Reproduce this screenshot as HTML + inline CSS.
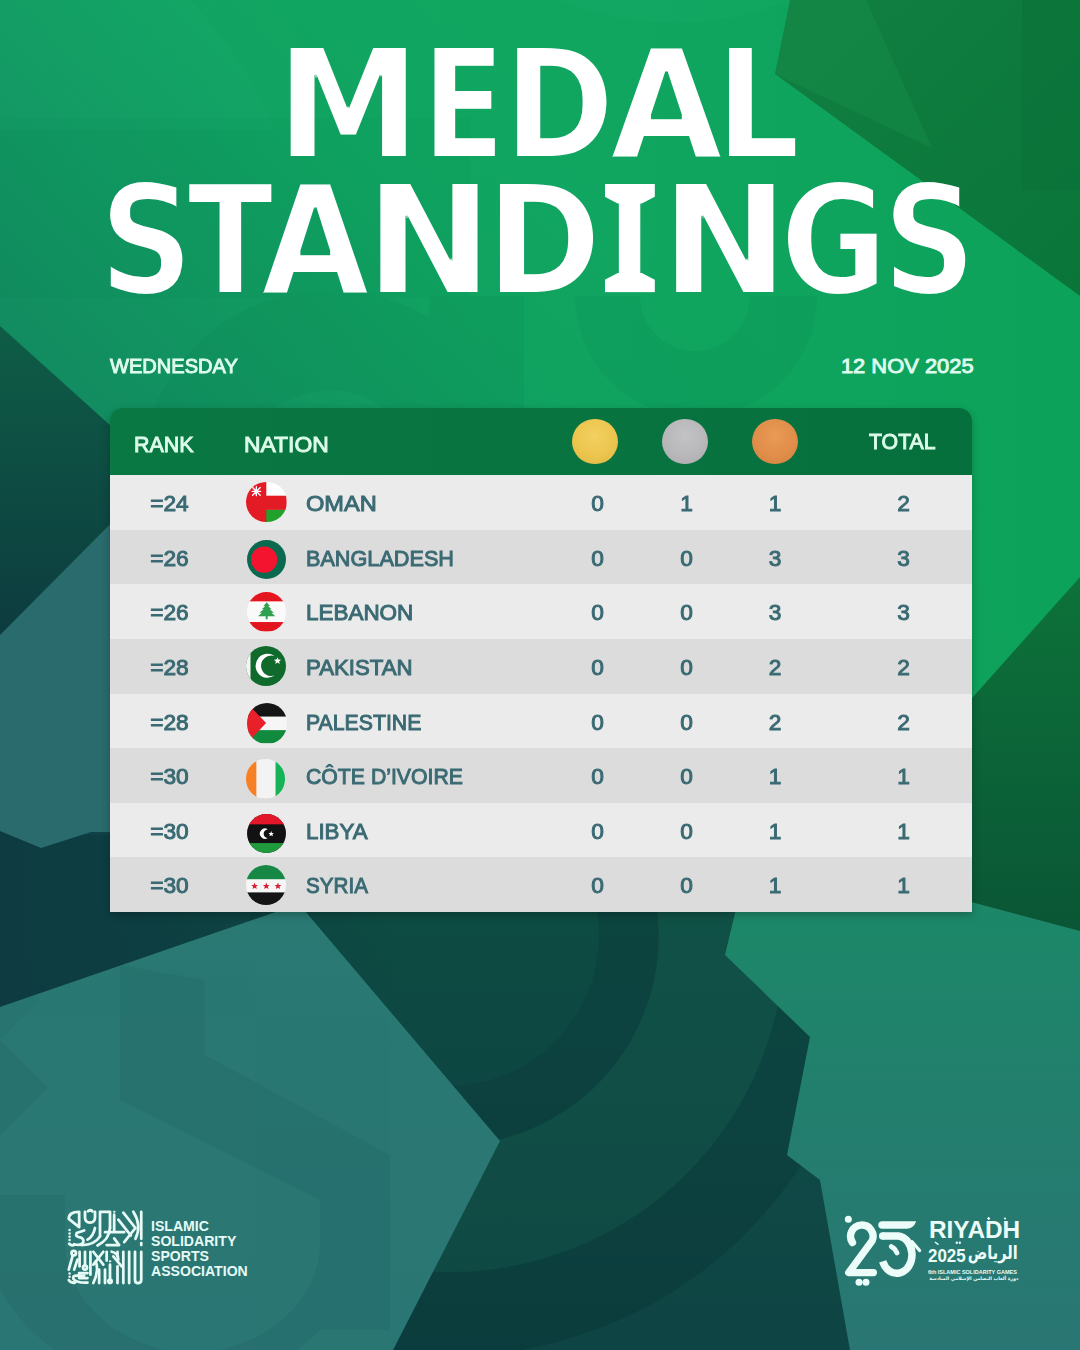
<!DOCTYPE html>
<html lang="en">
<head>
<meta charset="utf-8">
<title>Medal Standings</title>
<style>
*{margin:0;padding:0;box-sizing:border-box}
html,body{width:1080px;height:1350px;overflow:hidden;background:#0f5a4a}
body{position:relative;font-family:"Liberation Sans","DejaVu Sans",sans-serif;color:#fff}
#bg{position:absolute;left:0;top:0;width:1080px;height:1350px;display:block}
.title{position:absolute;font-family:"DejaVu Sans","Liberation Sans",sans-serif;font-stretch:normal;font-weight:700;font-size:153.4px;color:#fff;line-height:1;white-space:nowrap;filter:url(#thin)}
.title .tw{display:inline-block;transform-origin:0 0}
.title .tw span{display:inline-block}
.serif{position:absolute;left:604.800px;width:50px;height:19.500px;background:#fff;clip-path:polygon(0 0,100% 0,100% 66%,74% 100%,26% 100%,0 66%)}
.sub{position:absolute;top:354px;font-size:20.9px;font-weight:400;-webkit-text-stroke:.95px #defbee;color:#defbee;line-height:24px;white-space:nowrap}
#day{left:109.500px;transform-origin:0 50%;transform:scaleX(.96)}
#date{right:106.500px;transform-origin:100% 50%;transform:scaleX(1.048)}
#card{position:absolute;left:110px;top:408px;width:862px;height:504px;border-radius:13px 13px 0 0;overflow:hidden;box-shadow:0 3px 8px rgba(0,0,0,.24)}
#head{position:absolute;left:0;top:0;width:862px;height:67.300px;background:linear-gradient(90deg,#0a7843 0%,#06703d 100%)}
.h{position:absolute;font-size:21.8px;font-weight:400;-webkit-text-stroke:.95px #dcfbea;color:#dcfbea;line-height:24px;white-space:nowrap;transform-origin:0 50%}
.medal{position:absolute;top:10.500px;width:45.600px;height:45.600px;border-radius:50%}
.row{position:absolute;left:0;width:862px;height:54.600px;background:#ebebeb;color:#3a6a73;-webkit-text-stroke:1px #3a6a73;font-size:22.7px;font-weight:400;line-height:56.4px;white-space:nowrap}
.row.alt{background:#dcdcdc}
.row span{position:absolute;top:0}
.rk{left:0;width:119px;text-align:center}
.nm{left:195.800px;transform-origin:0 50%}
.n{width:60px;text-align:center}
.g{left:457.500px}.s{left:546.500px}.b{left:635px}.t{left:763.500px}
.flag{position:absolute;left:136.500px;top:7px;width:40.500px;height:40.500px;border-radius:50%;overflow:hidden}
.flag svg{display:block;width:100%;height:100%}
#issat{position:absolute;left:151.200px;top:1218.900px;font-size:14.300px;line-height:14.900px;font-weight:700;color:#e6fbf6;letter-spacing:0;white-space:nowrap;transform-origin:0 0;transform:scaleX(.985)}
#rtxt{position:absolute;left:928px;top:1210px;width:92px;height:80px;color:#ecfdf9;white-space:nowrap}
#riy{position:absolute;left:.600px;top:8.300px;font-size:24.300px;line-height:24px;font-weight:700;transform-origin:0 50%;transform:scaleX(1.003)}
#r2{position:absolute;left:0;top:33px;width:90px;height:24px}
#r2n{position:absolute;left:0;top:2.500px;font-size:18.500px;line-height:20px;font-weight:700;transform-origin:0 50%;transform:scaleX(.915)}
#r2a{position:absolute;right:.500px;top:-1.500px;font-family:"DejaVu Sans","Liberation Sans",sans-serif;font-size:16.500px;line-height:24px;font-weight:700;transform-origin:100% 60%;transform:scale(.88,1.12)}
#r3{position:absolute;left:0;top:57.500px;font-size:5.500px;line-height:8px;font-weight:700;transform-origin:0 50%}
#r4{position:absolute;right:1.500px;top:64px;font-family:"DejaVu Sans","Liberation Sans",sans-serif;font-size:4.700px;line-height:9px;font-weight:700;transform-origin:100% 50%}
</style>
</head>
<body>
<svg width="0" height="0" style="position:absolute"><defs>
<filter id="thin" x="-5%" y="-10%" width="110%" height="120%" color-interpolation-filters="sRGB">
<feMorphology operator="erode" radius="1 2"/>
</filter></defs></svg>
<svg id="bg" viewBox="0 0 1080 1350" width="1080" height="1350">
<defs>
<linearGradient id="gTop" x1="0" y1="0" x2="1" y2="0">
<stop offset="0" stop-color="#11a863"/><stop offset="0.55" stop-color="#10a660"/><stop offset="1" stop-color="#0da25a"/>
</linearGradient>
<linearGradient id="gFade" x1="0" y1="0" x2="0" y2="1">
<stop offset="0" stop-color="#0f5f52" stop-opacity="0"/><stop offset="0.45" stop-color="#0f5f52" stop-opacity="0"/><stop offset="1" stop-color="#0f5f52" stop-opacity="0.55"/>
</linearGradient>
<linearGradient id="gLeftFade" gradientUnits="userSpaceOnUse" x1="560" y1="120" x2="0" y2="640">
<stop offset="0" stop-color="#13795f" stop-opacity="0"/><stop offset="0.25" stop-color="#13795f" stop-opacity="0.08"/><stop offset="1" stop-color="#13795f" stop-opacity="0.92"/>
</linearGradient>
<linearGradient id="gTR" x1="0" y1="0" x2="1" y2="1">
<stop offset="0" stop-color="#118041"/><stop offset="1" stop-color="#0a7539"/>
</linearGradient>
<linearGradient id="gLT" x1="0" y1="0" x2="0" y2="1">
<stop offset="0" stop-color="#0e5d46"/><stop offset="1" stop-color="#0d3b3f"/>
</linearGradient>
<linearGradient id="gRD" x1="0" y1="0" x2="0" y2="1">
<stop offset="0" stop-color="#0d7239"/><stop offset="1" stop-color="#0a5636"/>
</linearGradient>
<linearGradient id="gMid" x1="0" y1="0" x2="1" y2="0">
<stop offset="0" stop-color="#2a6d6e"/><stop offset="0.5" stop-color="#1c7a68"/><stop offset="1" stop-color="#0f9a58"/>
</linearGradient>
<linearGradient id="gBot" x1="0" y1="0" x2="0" y2="1">
<stop offset="0" stop-color="#0d4f42"/><stop offset="0.5" stop-color="#0d4642"/><stop offset="1" stop-color="#0b393c"/>
</linearGradient>
<linearGradient id="gBL" x1="0" y1="0" x2="0" y2="1">
<stop offset="0" stop-color="#2a7973"/><stop offset="1" stop-color="#2a7674"/>
</linearGradient>
<linearGradient id="gBR" x1="0" y1="0" x2="0" y2="1">
<stop offset="0" stop-color="#1b8967"/><stop offset="0.5" stop-color="#237e6e"/><stop offset="1" stop-color="#2a7674"/>
</linearGradient>
<clipPath id="cpBot"><rect x="250" y="835" width="830" height="515"/></clipPath>
<clipPath id="cpBL"><polygon points="0,1007 299,904 500,1141 393,1350 0,1350"/></clipPath>
<linearGradient id="gBandL" gradientUnits="userSpaceOnUse" x1="0" y1="0" x2="400" y2="0"><stop offset="0" stop-color="#0d3b41" stop-opacity="1"/><stop offset="0.4" stop-color="#0d3b41" stop-opacity=".8"/><stop offset="1" stop-color="#0d3b41" stop-opacity="0"/></linearGradient>
</defs>
<!-- top bright green -->
<rect width="1080" height="1350" fill="url(#gTop)"/>
<rect x="0" y="0" width="1080" height="720" fill="url(#gLeftFade)"/>
<!-- middle band (mostly hidden behind card) -->
<rect x="0" y="560" width="972" height="360" fill="url(#gMid)"/>
<!-- bottom dark -->
<rect x="0" y="835" width="1080" height="515" fill="url(#gBot)"/>
<rect x="0" y="820" width="420" height="200" fill="url(#gBandL)"/>
<!-- concentric rings in the dark bottom area -->
<g fill="none" clip-path="url(#cpBot)">
<circle cx="449" cy="936" r="180" stroke="#0b3c3b" stroke-width="60" opacity=".5"/>
<circle cx="449" cy="936" r="273" stroke="#135549" stroke-width="127" opacity=".5"/>
<circle cx="449" cy="936" r="378" stroke="#0c403e" stroke-width="84" opacity=".5"/>
<circle cx="449" cy="936" r="520" stroke="#12504b" stroke-width="200" opacity=".5"/>
</g>
<!-- left teal under triangle -->
<polygon points="0,635 162,472 162,832 91,832 41,848 0,831" fill="#2a6b6d"/>
<!-- left dark triangle -->
<polygon points="0,326 162,472 0,635" fill="url(#gLT)"/>
<!-- top-right dark polygon -->
<polygon points="790,0 775,74 1080,296 1080,0" fill="url(#gTR)"/>
<polygon points="1022,0 1022,190 1080,190 1080,0" fill="#0a7238" opacity="0.6"/>
<polygon points="790,0 775,74 932,148 866,0" fill="#1a9450" opacity="0.3"/>
<!-- right dark polygon -->
<polygon points="900,779 1080,577 1080,931 900,883" fill="url(#gRD)"/>
<!-- right teal below -->
<polygon points="900,883 1080,931 1080,1350 850,1350 820,1180 787,1155 810,1037 725,955 737,905" fill="url(#gBR)"/>
<!-- bottom-left light teal polygon -->
<polygon points="0,1007 299,904 500,1141 393,1350 0,1350" fill="url(#gBL)"/>
<!-- subtle overlay shapes -->
<g clip-path="url(#cpBL)" fill="#1d5f60" opacity=".22">
<polygon points="120,965 205,980 205,1055 390,1155 390,1330 320,1330 320,1200 120,1100"/>
<path d="M0 1195H65V1230A120 105 0 0 0 320 1250V1330A200 190 0 0 1 0 1290Z"/>
<polygon points="0,1040 48,1088 0,1136"/><polygon points="0,960 40,1000 0,1040" opacity=".6"/>
</g>
<g fill="#0c7d4e" opacity=".16">
<path d="M140 480A190 190 0 0 1 520 480H420A90 90 0 0 0 240 480Z"/>
<rect x="429" y="296" width="95" height="112"/>
<path d="M575 296H640A55 55 0 0 0 750 296H817A121 121 0 0 1 575 296Z"/>
<rect x="0" y="118" width="470" height="180" opacity=".5"/>
</g>
<g fill="#2bbf7c" opacity=".10">
<path d="M190 0A420 420 0 0 1 275 130L0 130V0Z"/>
<path d="M560 0A300 300 0 0 0 790 0Z"/>
</g>
</svg>

<div class="title" id="t1" style="left:282.30px;top:28.70px"><span class="tw" style="transform:scaleX(0.8670)"><span style="margin-right:4.27px;transform:scaleX(1.085)">M</span><span style="margin-right:-5.77px;transform:scaleX(0.904)">E</span><span style="margin-right:0.58px;transform:scaleX(1.000)">D</span><span style="margin-right:-2.31px;transform:scaleX(1.106)">A</span><span style="margin-right:0.00px;transform:scaleX(0.988)">L</span></span></div>
<div class="title" id="t2" style="left:98.10px;top:165.00px"><span class="tw" style="transform:scaleX(0.8750)"><span style="margin-right:-11.09px;transform:scaleX(0.964)">S</span><span style="margin-right:-14.63px;transform:scaleX(0.931)">T</span><span style="margin-right:6.17px;transform:scaleX(1.055)">A</span><span style="margin-right:3.31px;transform:scaleX(1.129)">N</span><span style="margin-right:6.17px;transform:scaleX(1.034)">D</span><span style="margin-right:15.77px;transform:scaleX(0.925)">I</span><span style="margin-right:-2.17px;transform:scaleX(1.131)">N</span><span style="margin-right:-9.26px;transform:scaleX(0.968)">G</span><span style="margin-right:0.00px;transform:scaleX(0.960)">S</span></span></div>
<i class="serif" style="top:184px"></i><i class="serif" style="top:272.5px;transform:scaleY(-1)"></i>
<div class="sub" id="day">WEDNESDAY</div>
<div class="sub" id="date">12 NOV 2025</div>

<div id="card">
<div id="head">
<div class="h" style="left:23.500px;top:25px;transform:scaleX(.985)">RANK</div>
<div class="h" style="left:133.500px;top:25px;transform:scaleX(1.05)">NATION</div>
<div class="medal" style="left:462px;background:radial-gradient(circle at 50% 38%,#f3d061 0%,#ecc54e 55%,#ddb443 100%)"></div>
<div class="medal" style="left:552px;background:radial-gradient(circle at 50% 38%,#c3c3c5 0%,#b8b8ba 55%,#a9a9ab 100%)"></div>
<div class="medal" style="left:642px;background:radial-gradient(circle at 50% 38%,#e99a55 0%,#e08e4a 55%,#d07f3e 100%)"></div>
<div class="h" style="left:758.500px;top:21.500px;transform:scaleX(.976)">TOTAL</div>
</div>
<div class="row" style="top:67.2px"><span class="rk">=24</span><div class="flag" style="left:136.1px;top:6.7px;width:40.6px;height:40.6px"><svg viewBox="0 0 40 40"><rect width="40" height="40" fill="#fff"/><rect x="19" y="13.5" width="21" height="14" fill="#e21b25"/><rect x="19" y="27.5" width="21" height="13" fill="#1fa12a"/><rect width="20" height="40" fill="#e21b25"/><g stroke="#fff" stroke-width="1.3" stroke-linecap="round"><path d="M6.5 5.5L14 13M14 5.5L6.5 13M10.2 4.5V13.5M6 9.2H14.5"/></g></svg></div><span class="nm" style="transform:scaleX(1.041)">OMAN</span><span class="n g">0</span><span class="n s">1</span><span class="n b">1</span><span class="n t">2</span></div>
<div class="row alt" style="top:121.8px"><span class="rk">=26</span><div class="flag" style="left:137.0px;top:10.0px;width:39.2px;height:39.2px"><svg viewBox="0 0 40 40"><rect width="40" height="40" fill="#0b694f"/><circle cx="17.500" cy="20" r="13.400" fill="#f5142f"/></svg></div><span class="nm" style="transform:scaleX(0.954)">BANGLADESH</span><span class="n g">0</span><span class="n s">0</span><span class="n b">3</span><span class="n t">3</span></div>
<div class="row" style="top:176.4px"><span class="rk">=26</span><div class="flag" style="left:136.8px;top:8.0px;width:39.4px;height:39.4px"><svg viewBox="0 0 40 40"><rect width="40" height="40" fill="#fafafa"/><rect width="40" height="9.5" fill="#e3151f"/><rect y="30.5" width="40" height="9.5" fill="#e3151f"/><path d="M20 10.5l3.2 3.6h-1.8l3.6 3.4h-2l4.4 3.6h-2.6l4 3.4H21v3.2h-2v-3.2h-7.8l4-3.400h-2.6l4.400-3.600h-2l3.600-3.400h-1.800z" fill="#2ea050"/></svg></div><span class="nm" style="transform:scaleX(0.989)">LEBANON</span><span class="n g">0</span><span class="n s">0</span><span class="n b">3</span><span class="n t">3</span></div>
<div class="row alt" style="top:231.0px"><span class="rk">=28</span><div class="flag" style="left:136.3px;top:7.3px;width:40.0px;height:40.0px"><svg viewBox="0 0 40 40"><rect width="40" height="40" fill="#0f6a2c"/><rect width="4.500" height="40" fill="#f4f4f4"/><path d="M27.500 30.200a12 12 0 1 1 2.600-18.900a10.200 10.200 0 1 0 -2.600 18.900z" fill="#fff" transform="rotate(-8 22 20)"/><path d="M31.500 11.200l1 2.400 2.600.2-2 1.700.7 2.500-2.300-1.400-2.200 1.400.6-2.500-2-1.700 2.600-.2z" fill="#fff"/></svg></div><span class="nm" style="transform:scaleX(0.980)">PAKISTAN</span><span class="n g">0</span><span class="n s">0</span><span class="n b">2</span><span class="n t">2</span></div>
<div class="row" style="top:285.6px"><span class="rk">=28</span><div class="flag" style="left:136.7px;top:9.9px;width:40.2px;height:40.2px"><svg viewBox="0 0 40 40"><rect width="40" height="40" fill="#f6f6f6"/><rect width="40" height="13.500" fill="#151515"/><rect y="27" width="40" height="13" fill="#108a3c"/><path d="M0 0L19 20L0 40z" fill="#e8202a"/></svg></div><span class="nm" style="transform:scaleX(0.937)">PALESTINE</span><span class="n g">0</span><span class="n s">0</span><span class="n b">2</span><span class="n t">2</span></div>
<div class="row alt" style="top:340.2px"><span class="rk">=30</span><div class="flag" style="left:136.1px;top:11.3px;width:39.4px;height:39.4px"><svg viewBox="0 0 40 40"><rect width="40" height="40" fill="#f3f3f3"/><rect width="10.500" height="40" fill="#f58025"/><rect x="30" width="10" height="40" fill="#16b257"/></svg></div><span class="nm" style="transform:scaleX(0.936)">CÔTE D’IVOIRE</span><span class="n g">0</span><span class="n s">0</span><span class="n b">1</span><span class="n t">1</span></div>
<div class="row" style="top:394.8px"><span class="rk">=30</span><div class="flag" style="left:137.0px;top:10.9px;width:39.4px;height:39.4px"><svg viewBox="0 0 40 40"><rect width="40" height="40" fill="#121212"/><rect width="40" height="10.500" fill="#e2182a"/><rect y="29.500" width="40" height="10.500" fill="#1f9a3c"/><path d="M21.200 24.300a5.200 5.200 0 1 1 0-8.600a4.300 4.300 0 1 0 0 8.600z" fill="#fff"/><path d="M24.500 17.300l.8 1.900 2 .1-1.500 1.300.5 2-1.800-1.100-1.700 1.100.5-2-1.600-1.300 2.100-.1z" fill="#fff"/></svg></div><span class="nm" style="transform:scaleX(0.983)">LIBYA</span><span class="n g">0</span><span class="n s">0</span><span class="n b">1</span><span class="n t">1</span></div>
<div class="row alt" style="top:449.4px"><span class="rk">=30</span><div class="flag" style="left:135.9px;top:7.5px;width:40.6px;height:40.6px"><svg viewBox="0 0 40 40"><rect width="40" height="40" fill="#f6f6f6"/><rect width="40" height="14" fill="#178745"/><rect y="27" width="40" height="13" fill="#151515"/><g fill="#d81e34"><path id="st" d="M8.500 17.300l.9 2.300 2.500.1-1.900 1.600.6 2.400-2.100-1.300-2.100 1.300.6-2.400-1.900-1.600 2.500-.1z"/><path d="M20 17.300l.9 2.300 2.500.1-1.900 1.600.6 2.400-2.100-1.300-2.100 1.300.6-2.400-1.900-1.600 2.500-.1z"/><path d="M31.500 17.300l.9 2.300 2.500.1-1.900 1.600.6 2.400-2.100-1.300-2.100 1.300.6-2.400-1.900-1.600 2.500-.1z"/></g></svg></div><span class="nm" style="transform:scaleX(0.909)">SYRIA</span><span class="n g">0</span><span class="n s">0</span><span class="n b">1</span><span class="n t">1</span></div>
</div>

<svg id="issa" viewBox="0 0 1080 1080" width="90" height="90" style="position:absolute;left:60px;top:1203px" fill="none" stroke="#e6fbf6" stroke-width="33" stroke-linecap="round" stroke-linejoin="round">
<!-- upper block -->
<path d="M975 105V430"/><path d="M975 480V505"/>
<path d="M880 105Q985 270 905 430"/>
<path d="M760 115L905 300L770 470"/>
<path d="M700 200L850 390"/>
<path d="M650 140V350M540 350H770"/>
<circle cx="650" cy="105" r="9" fill="#e6fbf6" stroke-width="10"/>
<path d="M560 505H710L650 425"/>
<path d="M480 400V105H600V300"/>
<path d="M600 300Q590 440 450 510"/>
<path d="M480 400Q420 500 260 505"/>
<path d="M300 105V170Q300 235 360 235Q420 235 420 170V105"/>
<path d="M335 100Q360 75 390 100"/>
<path d="M230 290V105Q105 105 105 190L230 290"/>
<path d="M290 330L200 360Q180 400 230 410Q290 420 280 470Q250 520 170 495"/>
<path d="M420 300Q400 400 330 440"/>
<g fill="#e6fbf6" stroke="none"><circle cx="115" cy="325" r="15"/><circle cx="115" cy="365" r="15"/><circle cx="115" cy="405" r="15"/><circle cx="115" cy="445" r="15"/></g>
<path d="M110 490Q140 520 175 500"/>
<!-- lower block -->
<circle cx="165" cy="600" r="27"/>
<path d="M150 640L105 800"/>
<path d="M210 680L170 800"/>
<path d="M235 585V760"/>
<path d="M300 585V740"/><circle cx="300" cy="775" r="24"/>
<path d="M365 585V860"/>
<path d="M400 585L520 740M520 585L400 740"/>
<path d="M430 700Q470 820 400 960"/>
<path d="M470 800V960"/>
<path d="M540 800V960"/>
<path d="M600 740V900"/><circle cx="600" cy="940" r="20"/>
<circle cx="600" cy="700" r="9" fill="#e6fbf6" stroke-width="10"/>
<path d="M560 585V690"/>
<path d="M620 585Q700 600 700 680"/>
<path d="M640 640L740 760"/>
<path d="M690 760V960"/>
<path d="M760 585V960"/>
<path d="M830 585V960"/>
<path d="M900 585V920Q900 960 935 960Q975 960 975 920V585"/>
<path d="M690 585V640"/>
<path d="M330 840H230V900H330"/>
<path d="M290 870H200Q150 870 160 910Q190 960 330 955"/>
<g fill="#e6fbf6" stroke="none"><circle cx="115" cy="845" r="15"/><circle cx="115" cy="885" r="15"/></g>
<path d="M105 925Q130 965 180 955"/>
</svg>
<div id="issat">ISLAMIC<br>SOLIDARITY<br>SPORTS<br>ASSOCIATION</div>

<svg id="r25" viewBox="0 0 1080 1008" width="90" height="84" style="position:absolute;left:840px;top:1208px" fill="none" stroke="#ecfdf9" stroke-linecap="round" stroke-linejoin="round">
<circle cx="100" cy="135" r="42" fill="#ecfdf9" stroke="none"/>
<path d="M150 415A135 135 0 1 1 385 395L105 775H400" stroke-width="88"/>
<circle cx="228" cy="890" r="42" fill="#ecfdf9" stroke="none"/><circle cx="312" cy="890" r="42" fill="#ecfdf9" stroke="none"/>
<path d="M505 160H915Q880 250 800 250H505A45 45 0 0 1 505 160Z" fill="#ecfdf9" stroke="none"/>
<path d="M512 335H700A182 225 0 1 1 512 640" stroke-width="90" stroke-linecap="butt"/><circle cx="512" cy="335" r="45" fill="#ecfdf9" stroke="none"/>
<path d="M615 462L655 492L685 540" stroke-width="58"/>
<path d="M865 405L955 510" stroke-width="40"/>
</svg>
<svg id="rdeco" width="100" height="40" viewBox="0 0 100 40" style="position:absolute;left:925px;top:1212px" fill="#ecfdf9">
<path d="M63.700 4.800l1.700 1.700-1.700 1.700-1.700-1.700z"/>
<path d="M10.300 29.500l3.600 2.600-.8 1.100-3.600-2.600z"/>
<circle cx="31.800" cy="30.800" r="1.200"/><circle cx="34.800" cy="30.800" r="1.200"/>
<circle cx="80" cy="6.500" r="1.100"/>
</svg>
<div id="rtxt">
<div id="riy">RIYADH</div>
<div id="r2"><span id="r2n">2025</span><span id="r2a" lang="ar" dir="rtl">الرياض</span></div>
<div id="r3">6th ISLAMIC SOLIDARITY GAMES</div>
<div id="r4" lang="ar" dir="rtl">دورة ألعاب التضامن الإسلامي السادسة</div>
</div>
</body>
</html>
